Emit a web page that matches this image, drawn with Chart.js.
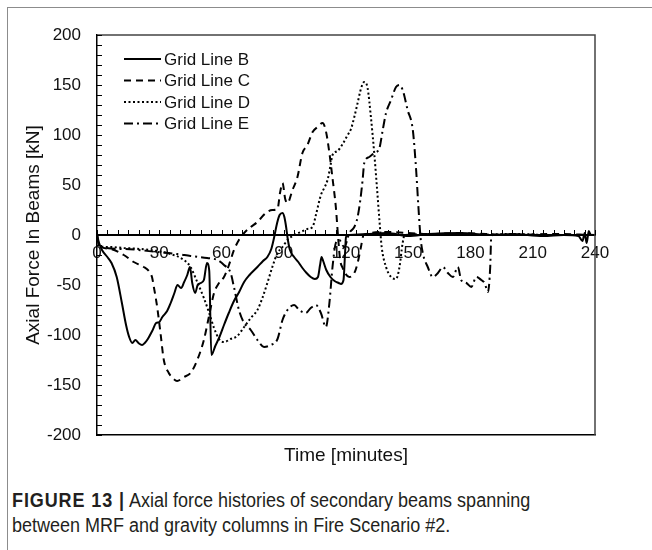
<!DOCTYPE html>
<html>
<head>
<meta charset="utf-8">
<title>Axial force histories</title>
<script src="https://cdn.jsdelivr.net/npm/chart.js@4.4.1/dist/chart.umd.min.js"></script>
<style>
  html, body { margin: 0; padding: 0; background: #fff; }
  body { width: 652px; height: 550px; position: relative; overflow: hidden; }
  #frame { position: absolute; left: 7px; top: 7px; width: 700px; height: 600px;
           border-left: 1.5px solid #8c8c8c; border-top: 1.5px solid #8c8c8c; }
  #chartBox { position: absolute; left: 0; top: 0; width: 652px; height: 475px; }
  #caption { position: absolute; left: 12px; top: 488px; color: #231f20; white-space: nowrap;
             font-family: "Liberation Sans", Arial, sans-serif;
             font-size: 20px; line-height: 25px;
             transform: scaleX(0.9); transform-origin: 0 0; }
  #caption b { font-weight: bold; letter-spacing: 1px; }
</style>
</head>
<body>
<div id="frame"></div>
<div id="chartBox"><canvas id="forceChart" width="652" height="475"></canvas></div>
<div id="caption"><b>FIGURE 13 |</b> Axial force histories of secondary beams spanning<br>between MRF and gravity columns in Fire Scenario #2.</div>
<script>
// time in minutes, axial force in kN
const bTime  = [0, 1, 2.4, 5, 7, 9.5, 12, 14, 15.5, 17, 18.5, 20, 21.7, 23, 24.5, 26.6, 28.5, 30, 31.5, 33.8,
                35.5, 37.3, 38.8, 40.5, 42, 43.5, 44.8, 45.9, 47.3, 48.5, 50, 51.5, 53, 54.1, 55.1, 57, 59, 61.2,
                63.5, 66, 68.5, 70.9, 73.5, 77.3, 80, 82.1, 84, 85.3, 86.8, 88, 89.4, 90.3, 91, 92, 93, 95, 97,
                99, 101, 103, 105, 106.5, 107.5, 108.2, 109, 110.5, 112.5, 114.5, 116.5, 117.6, 118.8, 119.5,
                120, 121.6, 130, 140, 150, 160, 175, 190, 200, 215, 225, 232, 234, 235, 236, 237, 238, 240];
const bForce = [0, -8, -15, -22, -28, -42, -68, -90, -102, -108, -105, -108, -110, -108, -104, -96, -88, -87,
                -82, -76, -68, -58, -50, -53, -47, -40, -32, -48, -58, -50, -48, -45, -28, -36, -120, -111,
                -102, -90, -78, -66, -57, -47, -40, -32, -26, -22, -14, -3, 12, 20, 22, 18, 10, -5, -15, -22,
                -27, -33, -38, -42, -44, -42, -30, -22, -26, -35, -42, -46, -48, -49, -45, -20, -2, 0, 1, 2,
                -1, 1, 2, 0, 1, -1, 0, -1, -6, 2, -8, 4, 0, 0];

const cTime  = [0, 1, 6.4, 12.9, 17.7, 22.5, 25, 26.5, 27.4, 29, 30.6, 32.2, 34.6, 36.5, 38.6, 41.9, 45.1, 48.3,
                51.5, 53.9, 56.4, 58.8, 61.2, 63.6, 66, 68.4, 70.9, 74.1, 77.3, 81.3, 84.5, 87, 88.2, 89.4, 90.7,
                91.8, 94.2, 96.6, 99, 101.4, 103.9, 106.3, 108.7, 110.3, 112, 113.6, 115.1, 116.3, 117.2, 118.4,
                119.5, 121.6, 124, 125.6, 127.2, 128.5, 140, 160, 175, 200, 220, 240];
const cForce = [0, -10, -14, -20, -27, -32, -36, -42, -52, -72, -98, -125, -138, -143, -146, -142, -138, -125,
                -105, -82, -58, -48, -42, -30, -15, -5, 2, 8, 13, 22, 25, 26, 42, 52, 36, 32, 45, 58, 82, 90, 103,
                108, 112, 104, 82, 55, 28, -5, -25, -33, -38, -42, -38, -28, -12, 0, 3, 1, 2, 0, 1, 0];

const dTime  = [0, 1, 6.4, 12.9, 20.9, 29, 35.4, 41.9, 45.1, 48.3, 51.5, 53.9, 56.4, 58.8, 61.2, 64.4, 67.6,
                70.9, 74.1, 77.3, 79.7, 82.1, 84.5, 87, 89.4, 91.8, 95, 98.2, 101.4, 103.9, 105.5, 107.9, 109.5,
                111.1, 112.4, 113.5, 115.9, 118.4, 120.8, 122.4, 124, 125.6, 127.3, 128.8, 130.4, 132, 133.6,
                134.9, 136.1, 137.2, 139.3, 141.7, 144.1, 145.7, 147.3, 148.3, 160, 180, 200, 220, 240];
const dForce = [0, -11, -12, -13, -14, -16, -19, -25, -32, -47, -63, -77, -93, -104, -107, -104, -101, -92,
                -83, -75, -63, -48, -32, -18, -12, -5, 0, 3, 6, 8, 20, 40, 47, 55, 68, 80, 84, 91, 100, 106, 118,
                132, 147, 153, 147, 118, 82, 48, 15, -12, -32, -42, -44, -33, -8, 0, 1, 0, 1, 0, 0];

const eTime  = [0, 1, 12.9, 29, 38.6, 45.1, 53.1, 58, 61.2, 64.4, 66, 68.4, 70.9, 74.1, 77.3, 80.5, 83.7, 87,
                89.4, 91.8, 95, 97.4, 100.6, 103, 105.5, 107.9, 110.3, 112, 113.5, 115.1, 116.7, 119.2, 121.6,
                124, 125.6, 126.9, 128, 128.8, 131.2, 133.6, 136.1, 137.7, 139.3, 141.7, 144.1, 145.7, 147.3,
                149.7, 152.2, 153.8, 154.9, 155.9, 157, 159.4, 161.8, 164.3, 166.7, 169.1, 171.5, 173.9, 175.5,
                178, 180.4, 182.8, 185.2, 186.8, 188.4, 189.5, 190, 191, 240];
const eForce = [0, -11, -14, -17, -19, -21, -23, -25, -30, -38, -52, -75, -88, -95, -105, -112, -110, -104,
                -85, -75, -70, -75, -78, -73, -70, -78, -92, -68, -32, -8, -5, -12, 2, 8, 18, 35, 55, 72, 78, 82,
                87, 105, 122, 135, 148, 150, 145, 125, 105, 65, 28, -2, -18, -32, -42, -38, -32, -38, -42, -32,
                -45, -48, -52, -42, -45, -48, -57, -32, -2, 0, 0];

const seriesNames = ['Grid Line B', 'Grid Line C', 'Grid Line D', 'Grid Line E'];
const xTickLabels = [0, 30, 60, 90, 120, 150, 180, 210, 240];
const xMinorStep = 5;
const yMinorStep = 10;

Chart.defaults.font.family = '"Liberation Sans", Arial, sans-serif';
Chart.defaults.color = '#111';

function pairs(t, v) {
  return t.map((x, i) => ({ x: x, y: v[i] }));
}

const lineStyles = [
  { dash: [] },
  { dash: [7, 5] },
  { dash: [2, 2.5] },
  { dash: [9, 4, 2, 4] }
];

const datasets = [[bTime, bForce], [cTime, cForce], [dTime, dForce], [eTime, eForce]].map((s, i) => ({
  label: seriesNames[i],
  data: pairs(s[0], s[1]),
  borderColor: '#000',
  borderWidth: 2,
  borderDash: lineStyles[i].dash,
  pointRadius: 0,
  fill: false,
  cubicInterpolationMode: 'monotone'
}));

// plot frame plus the small inward tick marks on the zero line and left axis
const axisMarks = {
  id: 'axisMarks',
  afterDraw(chart) {
    const { ctx, chartArea: a, scales } = chart;
    const xs = scales.x2, ys = scales.y;
    ctx.save();
    ctx.strokeStyle = '#444';
    ctx.lineWidth = 1.5;
    ctx.beginPath();
    ctx.moveTo(a.left, a.top);
    ctx.lineTo(a.right, a.top);
    ctx.lineTo(a.right, a.bottom);
    ctx.stroke();

    ctx.strokeStyle = '#000';
    ctx.lineWidth = 1;
    ctx.beginPath();
    const y0 = ys.getPixelForValue(0);
    for (let t = 0; t <= 240; t += xMinorStep) {
      const px = Math.round(xs.getPixelForValue(t)) + 0.5;
      ctx.moveTo(px, y0);
      ctx.lineTo(px, y0 - 5);
    }
    for (let v = -200; v <= 200; v += yMinorStep) {
      const py = Math.round(ys.getPixelForValue(v)) + 0.5;
      ctx.moveTo(a.left, py);
      ctx.lineTo(a.left + 5, py);
    }
    ctx.stroke();
    ctx.restore();
  }
};

// legend in the upper left corner of the plot
const innerLegend = {
  id: 'innerLegend',
  afterDraw(chart) {
    const { ctx, chartArea: a } = chart;
    ctx.save();
    ctx.font = '17px "Liberation Sans", Arial, sans-serif';
    ctx.textBaseline = 'middle';
    ctx.fillStyle = '#111';
    chart.data.datasets.forEach((ds, i) => {
      const y = a.top + 24 + i * 21.5;
      ctx.strokeStyle = '#000';
      ctx.lineWidth = 2;
      ctx.setLineDash(ds.borderDash);
      ctx.beginPath();
      ctx.moveTo(a.left + 27, y);
      ctx.lineTo(a.left + 64, y);
      ctx.stroke();
      ctx.setLineDash([]);
      ctx.fillText(ds.label, a.left + 67, y + 1);
    });
    ctx.restore();
  }
};

new Chart(document.getElementById('forceChart').getContext('2d'), {
  type: 'line',
  data: { datasets: datasets },
  options: {
    responsive: false,
    animation: false,
    layout: { padding: { top: 35, right: 57, left: 0, bottom: 0 } },
    plugins: { legend: { display: false }, tooltip: { enabled: false } },
    scales: {
      x: {
        type: 'linear', min: 0, max: 240, position: 'bottom',
        ticks: { display: false },
        grid: { display: false, drawTicks: false },
        border: { display: true, color: '#000', width: 1.5 },
        title: { display: true, text: 'Time [minutes]', color: '#111', font: { size: 19 }, padding: { top: 0, bottom: 8 } },
        afterFit(s) { s.height = 40; }
      },
      x2: {
        type: 'linear', axis: 'x', min: 0, max: 240, position: { y: 0 },
        ticks: {
          stepSize: 30, autoSkip: false, maxRotation: 0, color: '#111', font: { size: 17 }, padding: 8,
          callback: (v) => xTickLabels.includes(v) ? String(v) : ''
        },
        grid: { display: false, drawTicks: false },
        border: { display: true, color: '#000', width: 2 },
        afterFit(s) { s.height = 0; }
      },
      y: {
        min: -200, max: 200,
        ticks: { stepSize: 50, color: '#111', font: { size: 17 }, padding: 16 },
        grid: { display: false, drawTicks: false },
        border: { display: true, color: '#000', width: 1.5 },
        title: { display: true, text: 'Axial Force In Beams [kN]', color: '#111', font: { size: 19 }, padding: { top: 22, bottom: 0 } },
        afterFit(s) { s.width = 97; }
      }
    }
  },
  plugins: [axisMarks, innerLegend]
});
</script>
</body>
</html>
